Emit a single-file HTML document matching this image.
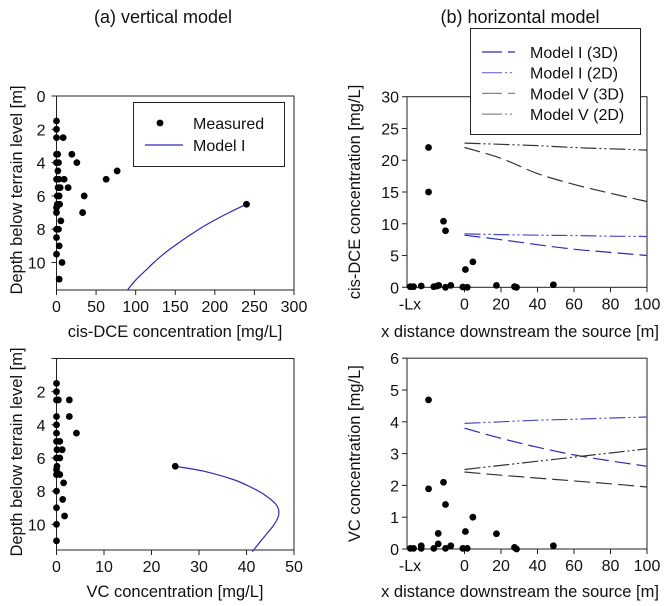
<!DOCTYPE html>
<html><head><meta charset="utf-8"><style>
body{margin:0;background:#fff;}
svg{display:block;font-family:"Liberation Sans",Arial,sans-serif;}
</style></head><body>
<svg id="c" width="666" height="606"></svg>
<script>
// ---- data ----
const aTopDepth=[1.5,2,2.5,2.5,3.5,3.5,3.5,4,4,4,4.5,4.5,5,5,5,5,5.5,5.5,5.5,6,6,6,6.5,6.5,6.5,6.7,7,7,7.5,8,8,8.5,9,9.5,10,11];
const aTopConc=[0,0,0,8.4,0,1.5,19.4,0,2.5,25.7,1.7,76.6,0,3,9.7,62.7,2,4.6,14.7,1,3.4,35,1,4,240,0,0,33,5.5,0,2.5,0,3.4,0,7,3.4];
const aTopModelDepth=[6.5,7,7.5,8,8.5,9,9.5,10,10.5,11,11.65];
const aTopModelConc=[240,218,198,180,164,149,135,123,112,101,89.6];
const aBotDepth=[1.5,2,2.5,2.5,2.5,3.5,3.5,4,4.5,4.5,5,5,5.5,5.5,6,6,6.5,6.5,6.7,7,7,7.5,8,8.5,9,9.5,10,11];
const aBotConc=[0,0,0,0.4,2.7,0,2.7,0,4.2,0,0,0.7,0.1,1.2,0,0.7,0.1,25,0,0,0.7,1.5,0,1.3,0,1.7,0,0];
const aBotModelDepth=[6.5,6.8,7.3,7.8,8.3,8.8,9.2,9.6,10.1,10.8,11.65];
const aBotModelConc=[25,31,37.2,41.2,44.2,46.2,46.8,46.6,45.6,43.6,41.2];
const bTopX=[-19.7,-19.7,-11.5,-10.4,0.5,4.6,-29.7,-27.9,-23.7,-16.8,-15,-14.1,-10.4,-7.5,-0.9,1.5,17.5,27.4,28.5,48.7];
const bTopY=[22,15,10.4,8.9,2.8,4,0.1,0.1,0.2,0.1,0.2,0.3,0,0.3,0.05,0,0.3,0.1,0,0.4];
const bModelX=[0,20,40,60,80,100];
const bTopM1_3D=[8.2,7.5,6.7,6.0,5.5,5.0];
const bTopM1_2D=[8.4,8.3,8.2,8.15,8.05,8.0];
const bTopM5_3D=[22.0,20.3,17.9,16.2,14.8,13.5];
const bTopM5_2D=[22.7,22.5,22.3,22.0,21.8,21.6];
const bBotX=[-19.7,-19.7,-11.5,-10.4,-14.4,-14.4,-7.5,0.5,4.6,17.5,27.4,48.7,-29.7,-27.9,-23.7,-23.7,-16.8,-10.4,-0.9,1.5,28.5];
const bBotY=[4.69,1.89,2.1,1.4,0.49,0.16,0.1,0.55,1.0,0.48,0.05,0.1,0.02,0.02,0.1,0.02,0.02,0.02,0.02,0.02,0];
const bBotM1_3D=[3.8,3.48,3.2,2.96,2.77,2.6];
const bBotM1_2D=[3.95,4.0,4.05,4.08,4.12,4.15];
const bBotM5_3D=[2.42,2.32,2.23,2.14,2.05,1.95];
const bBotM5_2D=[2.5,2.63,2.76,2.89,3.02,3.15];
const aTopXTicks=[0,50,100,150,200,250,300];
const aBotXTicks=[0,10,20,30,40,50];
const depthTicks=[0,2,4,6,8,10];
const bTopYTicks=[0,5,10,15,20,25,30];
const bBotYTicks=[0,1,2,3,4,5,6];
const bXTicks=[0,20,40,60,80,100];

const svg=document.getElementById('c');
const NS='http://www.w3.org/2000/svg';
const TK=16, TT=16.5;
function mk(tag,attrs,parent){const e=document.createElementNS(NS,tag);for(const k in attrs)e.setAttribute(k,attrs[k]);(parent||svg).appendChild(e);return e;}
function txt(s,x,y,size,anchor,rot){const t=mk('text',{x:x,y:y,'font-size':size,'text-anchor':anchor||'middle',fill:'#111'});if(rot)t.setAttribute('transform','rotate(-90 '+x+' '+y+')');t.textContent=s;return t;}
function lin(d0,d1,r0,r1){return v=>r0+(v-d0)/(d1-d0)*(r1-r0);}

function frame(name,l,t,r,b){
  const g=mk('g',{});
  
  
  mk('rect',{x:l,y:t,width:r-l,height:b-t,fill:'none',stroke:'#222','stroke-width':1},g);
  return g;
}
function dots(g,xs,ys,X,Y,name){
  xs.forEach((v,i)=>{const c=mk('circle',{cx:X(v),cy:Y(ys[i]),r:3.4,fill:'#000'},g);
  
  });
}
function path(g,xs,ys,X,Y,stroke,dash,name){
  const P=xs.map((v,i)=>[X(v),Y(ys[i])]);
  let d='M'+P[0][0].toFixed(1)+' '+P[0][1].toFixed(1);
  for(let i=0;i<P.length-1;i++){
    const p0=P[Math.max(0,i-1)],p1=P[i],p2=P[i+1],p3=P[Math.min(P.length-1,i+2)];
    const c1=[p1[0]+(p2[0]-p0[0])/6,p1[1]+(p2[1]-p0[1])/6];
    const c2=[p2[0]-(p3[0]-p1[0])/6,p2[1]-(p3[1]-p1[1])/6];
    d+=' C'+c1.map(n=>n.toFixed(1)).join(' ')+' '+c2.map(n=>n.toFixed(1)).join(' ')+' '+p2.map(n=>n.toFixed(1)).join(' ');
  }
  const p=mk('path',{d:d,fill:'none',stroke:stroke,'stroke-width':1.2},g);
  if(dash)p.setAttribute('stroke-dasharray',dash);
  
  
}

let t=txt('(a) vertical model',163,23,18);
t=txt('(b) horizontal model',520,23,18);

// ---- panel a top ----
{
 const l=56.5,r=294,tp=96,b=290;
 const X=lin(0,300,l,r),Y=lin(0,11.65,tp,b);
 const g=frame('panel-a-top',l,tp,r,b);
 aTopXTicks.forEach(v=>{mk('line',{x1:X(v),y1:b,x2:X(v),y2:b+5,stroke:'#222'},g);txt(String(v),X(v),b+22,TK);});
 depthTicks.forEach(v=>{mk('line',{x1:l-5,y1:Y(v),x2:l,y2:Y(v),stroke:'#222'},g);txt(String(v),l-11,Y(v)+6,TK,'end');});
 path(g,aTopModelConc,aTopModelDepth,X,Y,'#2b2bb8',null,'model-i-curve');
 dots(g,aTopConc,aTopDepth,X,Y,'measured-point');
 const lg=mk('g',{});
 mk('rect',{x:133.5,y:102.5,width:151,height:64,fill:'#fff',stroke:'#222'},lg);
 mk('circle',{cx:160,cy:123,r:3.4,fill:'#000'},lg);txt('Measured',193,129,TK,'start');
 mk('line',{x1:145,y1:145,x2:183,y2:145,stroke:'#2b2bb8','stroke-width':1.2},lg);txt('Model I',193,151,TK,'start');
 t=txt('Depth below terrain level [m]',22,190,TT,'middle',true);
 t=txt('cis-DCE concentration [mg/L]',175,337,TT);
}
// ---- panel a bottom ----
{
 const l=56.5,r=294,tp=358.5,b=550;
 const X=lin(0,50,l,r),Y=lin(0,11.55,tp,b);
 const g=frame('panel-a-bottom',l,tp,r,b);
 aBotXTicks.forEach(v=>{mk('line',{x1:X(v),y1:b,x2:X(v),y2:b+5,stroke:'#222'},g);txt(String(v),X(v),b+22,TK);});
 depthTicks.forEach(v=>{mk('line',{x1:l-5,y1:Y(v),x2:l,y2:Y(v),stroke:'#222'},g);if(v>0)txt(String(v),l-11,Y(v)+6,TK,'end');});
 path(g,aBotModelConc,aBotModelDepth,X,Y,'#2b2bb8',null,'model-i-curve');
 dots(g,aBotConc,aBotDepth,X,Y,'measured-point');
 t=txt('Depth below terrain level [m]',22,452,TT,'middle',true);
 t=txt('VC concentration [mg/L]',175,597,TT);
}
// ---- panel b ----
function panelB(name,tp,b,ymax,yt,xs,ys,m13,m12,m53,m52,ytitle,ty){
 const l=407,r=647;
 const X=lin(-31.5,100,l,r),Y=lin(0,ymax,b,tp);
 const g=frame(name,l,tp,r,b);
 bXTicks.forEach(v=>{mk('line',{x1:X(v),y1:b,x2:X(v),y2:b+5,stroke:'#222'},g);txt(String(v),X(v),b+22,TK);});
 txt('-Lx',l+3,b+22,TK);
 yt.forEach(v=>{mk('line',{x1:l-5,y1:Y(v),x2:l,y2:Y(v),stroke:'#222'},g);txt(String(v),l-8,Y(v)+6,TK,'end');});
 path(g,bModelX,m13,X,Y,'#2b2bb8','16 6','model-i-3d-line');
 path(g,bModelX,m12,X,Y,'#4848c8','16 3 2 3 2 3','model-i-2d-line');
 path(g,bModelX,m53,X,Y,'#333','16 6','model-v-3d-line');
 path(g,bModelX,m52,X,Y,'#333','16 3 2 3 2 3','model-v-2d-line');
 dots(g,xs,ys,X,Y,'measured-point');
 t=txt(ytitle,360,(tp+b)/2,TT,'middle',true);
 t=txt('x distance downstream the source [m]',520,ty,TT);
}
panelB('panel-b-top',96.7,287.3,30,bTopYTicks,bTopX,bTopY,bTopM1_3D,bTopM1_2D,bTopM5_3D,bTopM5_2D,'cis-DCE concentration [mg/L]',337);
panelB('panel-b-bottom',358.2,549,6,bBotYTicks,bBotX,bBotY,bBotM1_3D,bBotM1_2D,bBotM5_3D,bBotM5_2D,'VC concentration [mg/L]',597);
// legend b
{
 const lg=mk('g',{});
 mk('rect',{x:470.5,y:28.5,width:170,height:106,fill:'#fff',stroke:'#222'},lg);
 const names=['Model I (3D)','Model I (2D)','Model V (3D)','Model V (2D)'];
 const cols=['#2b2bb8','#6a6ad8','#888','#888'];
 const dashes=['20 6','20 3 2 3 2 3','20 6','20 3 2 3 2 3'];
 names.forEach((n,i)=>{const y=52+i*20.7;
  mk('line',{x1:482,y1:y,x2:515,y2:y,stroke:cols[i],'stroke-width':1.2,'stroke-dasharray':dashes[i]},lg);
  txt(n,530,y+6,TK,'start');});
}
</script>
</body></html>
